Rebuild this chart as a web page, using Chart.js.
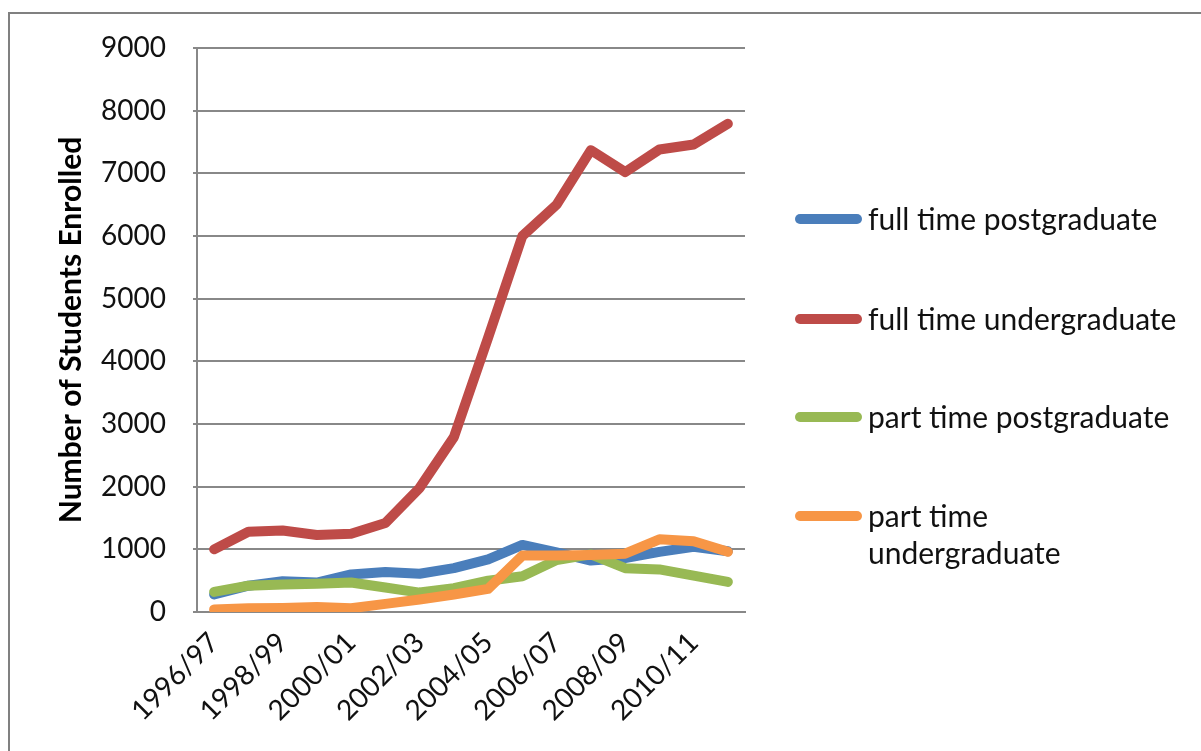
<!DOCTYPE html>
<html>
<head>
<meta charset="utf-8">
<script src="https://cdn.jsdelivr.net/npm/chart.js@4/dist/chart.umd.min.js"></script>
<style>
  html, body { margin: 0; padding: 0; background: #fff; overflow: hidden; }
  #wrap { position: relative; width: 1201px; height: 751px; }
  #frame { position: absolute; left: 8px; top: 12px; width: 1400px; height: 900px;
           border-top: 2px solid #808080; border-left: 2.5px solid #808080; box-sizing: border-box; }
  #chart { position: absolute; left: 0; top: 0; }
  #legend { position: absolute; left: 0; top: 0; font-family: Lato, "Open Sans", sans-serif; font-size: 30px; color: #111; }
  .item { position: absolute; display: flex; align-items: flex-start; }
  .swatch { width: 67px; height: 10px; border-radius: 5px; margin-right: 6px; }
  .lbl { line-height: 37px; white-space: nowrap; }
</style>
</head>
<body>
<div id="wrap">
  <div id="frame"></div>
  <canvas id="chart" width="1201" height="751"></canvas>
  <div id="legend"></div>
</div>
<script>
const categories = ["1996/97","1997/98","1998/99","1999/00","2000/01","2001/02","2002/03","2003/04",
                    "2004/05","2005/06","2006/07","2007/08","2008/09","2009/10","2010/11","2011/12"];
const fullTimePostgraduate  = [280, 420, 490, 470, 600, 640, 610, 700, 840, 1070, 950, 820, 860, 960, 1040, 970];
const fullTimeUndergraduate = [1000, 1280, 1300, 1230, 1250, 1420, 1980, 2790, 4380, 6000, 6500, 7370, 7020, 7380, 7460, 7790];
const partTimePostgraduate  = [320, 420, 440, 450, 470, 390, 310, 380, 500, 570, 830, 920, 700, 680, 580, 480];
const partTimeUndergraduate = [40, 60, 65, 80, 60, 130, 200, 280, 370, 900, 900, 910, 930, 1160, 1130, 960];
const seriesNames = [["full time postgraduate"], ["full time undergraduate"], ["part time postgraduate"], ["part time", "undergraduate"]];
const yTicks = [0, 1000, 2000, 3000, 4000, 5000, 6000, 7000, 8000, 9000];
const yTitle = "Number of Students Enrolled";

const colors = ["#4A7EBB", "#BE4B48", "#98B954", "#F79646"];
const FONT = "Lato, 'Open Sans', sans-serif";
const TXT = "#111";
const GRID = "#888888";

const mk = (i, data) => ({
  label: seriesNames[i].join(" "),
  data: data,
  borderColor: colors[i],
  backgroundColor: colors[i],
  borderWidth: 10,
  borderCapStyle: "round",
  borderJoinStyle: "round",
  pointRadius: 0,
  pointHoverRadius: 0,
  tension: 0,
  fill: false,
  order: 3 - i
});

const chart = new Chart(document.getElementById("chart"), {
  type: "line",
  data: {
    labels: categories,
    datasets: [
      mk(0, fullTimePostgraduate),
      mk(1, fullTimeUndergraduate),
      mk(2, partTimePostgraduate),
      mk(3, partTimeUndergraduate)
    ]
  },
  options: {
    responsive: false,
    animation: false,
    events: [],
    layout: { padding: { left: 0, right: 456, top: 48, bottom: 0 } },
    plugins: { legend: { display: false }, tooltip: { enabled: false } },
    scales: {
      x: {
        offset: true,
        grid: { display: false },
        border: { display: true, color: GRID, width: 2 },
        ticks: {
          autoSkip: false,
          minRotation: 45,
          maxRotation: 45,
          padding: 6,
          color: TXT,
          font: { family: FONT, size: 28 },
          callback: function (v, i) { return i % 2 === 0 ? categories[i] : ""; }
        },
        afterFit: function (s) { s.height = 139; }
      },
      y: {
        min: 0,
        max: 9000,
        afterBuildTicks: function (s) { s.ticks = yTicks.map(v => ({ value: v })); },
        grid: { color: GRID, lineWidth: 2, tickLength: 4 },
        border: { display: true, color: GRID, width: 2 },
        ticks: {
          padding: 27, color: TXT, font: { family: FONT, size: 28 },
          callback: function (v) { return String(v); }
        },
        title: {
          display: true,
          text: yTitle,
          color: "#000",
          font: { family: FONT, size: 30, weight: "bold" },
          padding: { top: 53, bottom: 0 }
        },
        afterFit: function (s) { s.width = 197; }
      }
    }
  }
});

// HTML legend built from the chart's datasets
const legendPos = [[795, 200], [795, 300], [795, 398], [795, 497]];
const legend = document.getElementById("legend");
chart.data.datasets.forEach((ds, i) => {
  const item = document.createElement("div");
  item.className = "item";
  item.style.left = legendPos[i][0] + "px";
  item.style.top = legendPos[i][1] + "px";
  const sw = document.createElement("div");
  sw.className = "swatch";
  sw.style.background = ds.borderColor;
  sw.style.marginTop = "14px";
  const lbl = document.createElement("div");
  lbl.className = "lbl";
  lbl.innerHTML = seriesNames[i].join("<br>");
  item.appendChild(sw);
  item.appendChild(lbl);
  legend.appendChild(item);
});
</script>
</body>
</html>
